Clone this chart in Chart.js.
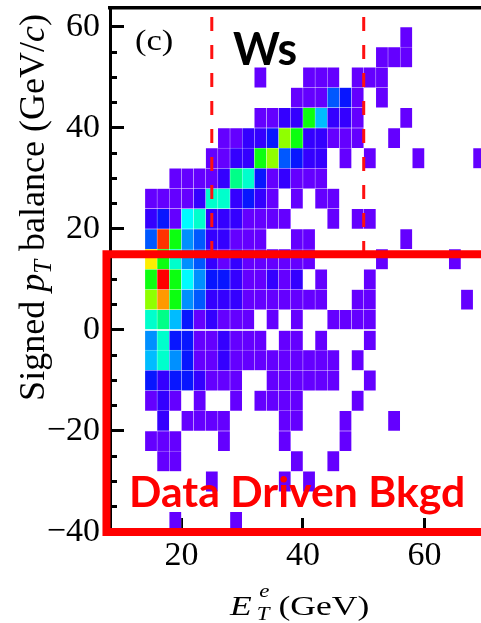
<!DOCTYPE html>
<html>
<head>
<meta charset="utf-8">
<script src="https://cdn.jsdelivr.net/npm/chart.js@4.4.1/dist/chart.umd.min.js"></script>
<style>
html,body{margin:0;padding:0;background:#ffffff;overflow:hidden;}
canvas{display:block;}
</style>
</head>
<body>
<canvas id="chart" width="481" height="623"></canvas>
<script>
// ================= DATA =================
// E_T^e bins (lower edges, GeV), 2 GeV wide
const etBinLow = [14,16,18,20,22,24,26,28,30,32,34,36,38,40,42,44,46,48,50,52,54,56,58,60,62,64,66,68];
const etBinWidth = 2;
// signed pT balance bins (lower edges, GeV/c), 4 GeV/c wide, top row first
const ptBinLow = [56,52,48,44,40,36,32,28,24,20,16,12,8,4,0,-4,-8,-12,-16,-20,-24,-28,-32,-36,-40];
const ptBinWidth = 4;
// colour level of every cell (0 = empty), one list per pT row, one entry per E_T bin
const row_56  = [0,0,0,0,0,0,0,0,0,0,0,0,0,0,0,0,0,0,0,0,0,1,0,0,0,0,0,0];
const row_52  = [0,0,0,0,0,0,0,0,0,0,0,0,0,0,0,0,0,0,0,1,1,1,0,0,0,0,0,0];
const row_48  = [0,0,0,0,0,0,0,0,0,1,0,0,0,1,1,1,0,1,1,1,0,0,0,0,0,0,0,0];
const row_44  = [0,0,0,0,0,0,0,0,0,0,0,0,1,1,1,4,3,1,0,1,0,0,0,0,0,0,0,0];
const row_40  = [0,0,0,0,0,0,0,0,0,1,1,2,2,10,6,2,2,1,0,0,0,1,0,0,0,0,0,0];
const row_36  = [0,0,0,0,0,0,1,1,2,2,3,11,10,2,2,1,1,1,0,0,1,0,0,0,0,0,0,0];
const row_32  = [0,0,0,0,0,1,1,2,2,10,11,4,3,2,2,0,1,0,1,0,0,0,1,0,0,0,0,1];
const row_28  = [0,0,1,1,1,1,2,9,8,3,1,2,1,1,1,0,0,0,0,0,0,0,0,0,0,0,0,0];
const row_24  = [1,1,1,1,2,8,8,2,3,2,1,0,1,0,1,1,0,0,0,0,0,0,0,0,0,0,0,0];
const row_20  = [2,3,1,7,8,2,2,2,1,1,1,1,0,0,0,1,0,1,1,0,0,0,0,0,0,0,0,0];
const row_16  = [4,14,10,5,4,2,2,1,1,1,0,0,1,1,0,0,0,0,0,0,0,1,0,0,0,0,0,0];
const row_12  = [12,10,8,5,4,2,1,2,1,1,1,1,1,1,0,0,0,0,0,1,0,0,0,0,0,1,0,0];
const row_8   = [10,15,10,7,5,3,3,2,1,1,2,1,2,0,1,0,0,0,1,0,0,0,0,0,0,0,0,0];
const row_4   = [11,13,10,5,4,2,2,2,1,1,1,1,1,1,1,0,0,1,1,0,0,0,0,0,0,0,1,0];
const row_0   = [8,9,6,3,1,2,1,1,1,0,1,0,1,0,0,1,1,1,1,0,0,0,0,0,0,0,0,0];
const row_m4  = [5,8,3,3,1,1,2,1,1,1,0,1,1,0,1,0,0,0,1,0,0,0,0,0,0,0,0,0];
const row_m8  = [6,8,5,3,1,1,2,1,1,1,1,1,1,1,1,1,0,1,0,0,0,0,0,0,0,0,0,0];
const row_m12 = [3,2,3,3,2,1,1,1,0,0,1,1,1,1,1,1,0,0,1,0,0,0,0,0,0,0,0,0];
const row_m16 = [1,2,1,0,1,0,0,1,0,1,1,1,1,0,0,0,0,1,0,0,0,0,0,0,0,0,0,0];
const row_m20 = [0,2,0,1,1,1,1,0,0,0,0,1,1,0,0,0,1,0,0,0,1,0,0,0,0,0,0,0];
const row_m24 = [1,1,1,0,0,0,1,0,0,0,0,1,0,0,0,0,1,0,0,0,0,0,0,0,0,0,0,0];
const row_m28 = [0,1,1,0,0,0,0,0,0,0,0,0,1,0,0,1,0,0,0,0,0,0,0,0,0,0,0,0];
const row_m32 = [0,0,0,0,0,1,0,0,0,0,0,1,0,1,0,0,0,0,0,0,0,0,0,0,0,0,0,0];
const row_m36 = [0,0,0,0,0,0,0,0,0,0,0,0,0,0,0,0,0,0,0,0,0,0,0,0,0,0,0,0];
const row_m40 = [0,0,1,0,0,0,0,1,0,0,0,0,0,0,0,0,0,0,0,0,0,0,0,0,0,0,0,0];
// tick labels
const xTickLabels = [20, 40, 60];
const yTickLabels = [60, 40, 20, 0, -20, -40];
// E_T cut lines (GeV) and the data-driven background region
const cutLinesEt = [25, 50];
const cutLineTop = 62;
const bkgdBoxPtHigh = 15;

// ================= STYLE =================
const levelColors = ['#6400ff','#3400ff','#0816ff','#0058ff','#0090ff','#00bcff','#00fcff',
  '#00ffcc','#00ff88','#0cff10','#90ff00','#ffee00','#ff9900','#ff3300','#ff0000'];
const SERIF = "'Liberation Serif','Times New Roman',Times,serif";
const SANS = "Lato,'Liberation Sans',Arial,sans-serif";
const X_MIN = 8.25, X_MAX = 69.3, Y_MIN = -40, Y_MAX = 63.76;

const rows = [row_56,row_52,row_48,row_44,row_40,row_36,row_32,row_28,row_24,row_20,row_16,row_12,
  row_8,row_4,row_0,row_m4,row_m8,row_m12,row_m16,row_m20,row_m24,row_m28,row_m32,row_m36,row_m40];

const cells = [];
ptBinLow.forEach((pLow, j) => {
  rows[j].forEach((lvl, k) => {
    if (lvl > 0) cells.push({x: etBinLow[k] + etBinWidth / 2, y: [pLow, pLow + ptBinWidth], level: lvl});
  });
});

const fmtNum = v => (v < 0 ? '\u2212' + Math.abs(v) : String(v));

function runs(ctx, list, draw) {
  let cx = 0;
  for (const r of list) {
    ctx.font = r.font;
    const dx = r.dx || 0;
    if (r.sub !== undefined) {
      const w1 = ctx.measureText(r.sub).width, w2 = ctx.measureText(r.sup).width + (r.supDx || 0);
      if (draw) {
        ctx.fillText(r.sub, cx + dx, r.subDy);
        ctx.fillText(r.sup, cx + dx + (r.supDx || 0), r.supDy);
      }
      cx += dx + Math.max(w1, w2);
    } else {
      if (draw) ctx.fillText(r.t, cx + dx, r.dy || 0);
      cx += dx + ctx.measureText(r.t).width;
    }
  }
  return cx;
}

function fitBold(ctx, text, color, x0, x1, base, cap) {
  const size = cap / 0.716;
  ctx.save();
  ctx.font = `bold ${size}px ${SANS}`;
  const w = ctx.measureText(text).width;
  ctx.translate(x0, base);
  ctx.scale((x1 - x0) / w, 1);
  ctx.fillStyle = color;
  ctx.fillText(text, 0, 0);
  ctx.restore();
}

const annotations = {
  id: 'annotations',
  afterDraw(chart) {
    const {ctx} = chart;
    const xs = chart.scales.x, ys = chart.scales.y;
    ctx.save();
    ctx.textAlign = 'left';
    ctx.textBaseline = 'alphabetic';
    ctx.fillStyle = '#000';
    // panel label
    ctx.save();
    ctx.translate(xs.getPixelForValue(12.37), ys.getPixelForValue(55.45));
    ctx.scale(1.19, 1);
    ctx.font = `29px ${SERIF}`;
    ctx.fillText('(c)', 0, 0);
    ctx.restore();
    // overlay labels
    fitBold(ctx, 'Ws', '#000000', xs.getPixelForValue(28.5), xs.getPixelForValue(39.03), ys.getPixelForValue(52.48), 33);
    fitBold(ctx, 'Data Driven Bkgd', '#ff0000', xs.getPixelForValue(11.38), xs.getPixelForValue(66.69), ys.getPixelForValue(-35.05), 30.5);
    // y axis title
    const yRuns = [
      {t: 'Signed ', font: `36px ${SERIF}`},
      {t: 'p', font: `italic 36px ${SERIF}`},
      {t: 'T', font: `italic 25px ${SERIF}`, dy: 7},
      {t: ' balance (GeV/', font: `36px ${SERIF}`},
      {t: 'c', font: `italic 36px ${SERIF}`},
      {t: ')', font: `36px ${SERIF}`}
    ];
    const L = runs(ctx, yRuns, false);
    ctx.save();
    ctx.translate(43.8, 207.5 + L / 2);
    ctx.rotate(-Math.PI / 2);
    runs(ctx, yRuns, true);
    ctx.restore();
    // x axis title
    const xRuns = [
      {t: 'E', font: `italic 28px ${SERIF}`},
      {sub: 'T', sup: 'e', font: `italic 18px ${SERIF}`, dx: 4, subDy: 5, supDy: -18, supDx: 2},
      {t: ' (GeV)', font: `28px ${SERIF}`}
    ];
    ctx.save();
    ctx.translate(230, 615);
    ctx.scale(1.27, 1);
    runs(ctx, xRuns, true);
    ctx.restore();
    ctx.restore();
  }
};

const datasets = [
  {
    type: 'bar',
    label: 'cells',
    data: cells,
    backgroundColor: c => (c.raw ? levelColors[c.raw.level - 1] : '#6400ff'),
    borderWidth: 0.5,
    borderColor: 'rgba(255,255,255,0.3)',
    borderSkipped: false,
    grouped: false,
    categoryPercentage: 1,
    barPercentage: 1,
    order: 3
  }
];
cutLinesEt.forEach(et => {
  datasets.push({
    type: 'line',
    data: [{x: et, y: cutLineTop}, {x: et, y: bkgdBoxPtHigh}],
    borderColor: '#ff1010',
    borderWidth: 3,
    borderDash: [14, 14],
    pointRadius: 0,
    tension: 0,
    fill: false,
    clip: false,
    order: 2
  });
});
datasets.push({
  type: 'line',
  data: [{x: 76, y: bkgdBoxPtHigh}, {x: 7.67, y: bkgdBoxPtHigh}, {x: 7.67, y: Y_MIN}, {x: 76, y: Y_MIN}],
  borderColor: '#ff0000',
  borderWidth: 8,
  borderJoinStyle: 'miter',
  borderCapStyle: 'butt',
  pointRadius: 0,
  tension: 0,
  fill: false,
  clip: false,
  order: 1
});

new Chart(document.getElementById('chart'), {
  type: 'bar',
  data: {datasets},
  options: {
    responsive: false,
    animation: false,
    devicePixelRatio: 1,
    events: [],
    layout: {padding: {top: 8, left: 0, right: 0, bottom: 0}},
    plugins: {legend: {display: false}, tooltip: {enabled: false}, title: {display: false}},
    scales: {
      x: {
        type: 'linear', position: 'bottom', min: X_MIN, max: X_MAX, offset: false,
        afterFit: s => { s.height = 91; s.paddingLeft = 0; s.paddingRight = 0; },
        grid: {drawOnChartArea: false, offset: false, drawTicks: true, tickLength: -14, tickWidth: 3, tickColor: '#000'},
        border: {display: true, width: 3, color: '#000'},
        ticks: {
          stepSize: 20, includeBounds: false, autoSkip: false, maxRotation: 0, minRotation: 0,
          padding: 18, color: '#000', font: {family: SERIF, size: 34},
          callback: v => (xTickLabels.includes(v) ? fmtNum(v) : '')
        }
      },
      y: {
        type: 'linear', position: 'left', min: Y_MIN, max: Y_MAX,
        afterFit: s => { s.width = 110; s.paddingTop = 0; s.paddingBottom = 0; },
        grid: {
          drawOnChartArea: false, drawTicks: true, tickLength: -14, tickWidth: 3, tickColor: '#000',
          tickBorderDash: c => (c.tick && Math.abs(c.tick.value % 20) > 1e-6 ? [0, 7, 100] : [])
        },
        border: {display: true, width: 3, color: '#000'},
        ticks: {
          stepSize: 5, includeBounds: false, autoSkip: false, padding: 24, color: '#000',
          font: {family: SERIF, size: 34},
          callback: v => (yTickLabels.includes(v) ? fmtNum(v) : '')
        }
      },
      xTop: {
        type: 'linear', position: 'top', min: X_MIN, max: X_MAX, offset: false,
        afterFit: s => { s.height = 0; s.paddingLeft = 0; s.paddingRight = 0; },
        grid: {display: false, drawTicks: false},
        border: {display: true, width: 3.5, color: '#000'},
        ticks: {display: false}
      }
    }
  },
  plugins: [annotations]
});
</script>
</body>
</html>
